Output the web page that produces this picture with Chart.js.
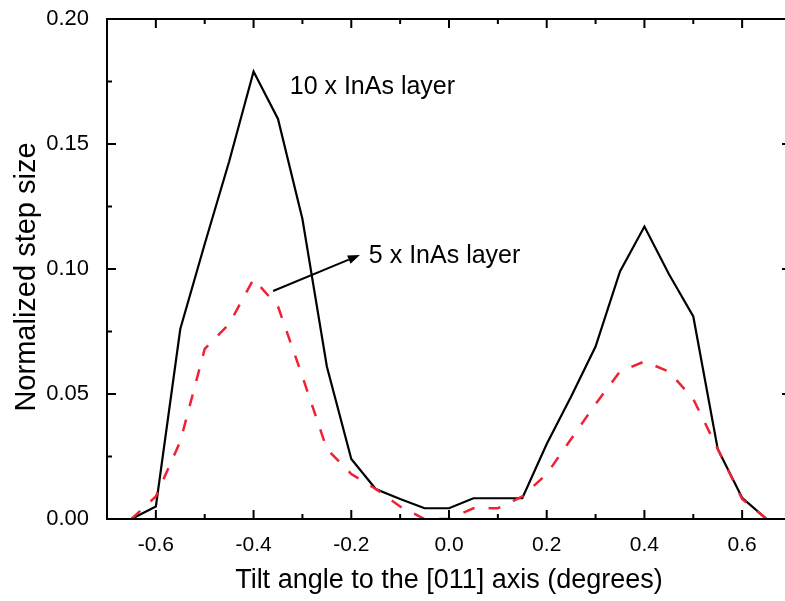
<!DOCTYPE html>
<html>
<head>
<meta charset="utf-8">
<title>Normalized step size vs tilt angle</title>
<script src="https://cdn.jsdelivr.net/npm/chart.js@4.4.0/dist/chart.umd.min.js"></script>
<style>
  html, body { margin: 0; padding: 0; background: #ffffff; overflow: hidden; }
  #wrap { width: 785px; height: 601px; overflow: hidden; }
</style>
</head>
<body>
<div id="wrap"><canvas id="c" width="792" height="601"></canvas></div>
<script>
// Tilt angle to the [011] axis (degrees)
const tiltAngles = [-0.65, -0.6, -0.55, -0.5, -0.45, -0.4, -0.35, -0.3, -0.25, -0.2, -0.15, -0.1, -0.05,
                    0.0, 0.05, 0.1, 0.15, 0.2, 0.25, 0.3, 0.35, 0.4, 0.45, 0.5, 0.55, 0.6, 0.65];

// Normalized step size, 10 x InAs layer (solid black)
const tenLayer = [0, 0.005, 0.076, 0.11, 0.143, 0.179, 0.16, 0.12, 0.061, 0.024, 0.012, 0.008, 0.0043,
                  0.0043, 0.0083, 0.0083, 0.0083, 0.03, 0.049, 0.069, 0.099, 0.117, 0.098, 0.081, 0.028, 0.0085, 0];

// Normalized step size, 5 x InAs layer (dashed red)
const fiveLayer = [0, 0.009, 0.031, 0.068, 0.078, 0.096, 0.085, 0.057, 0.028, 0.018, 0.012, 0.005, 0,
                   0, 0.0043, 0.0043, 0.009, 0.018, 0.032, 0.046, 0.059, 0.063, 0.059, 0.048, 0.028, 0.008, 0];

// Axis ticks
const xMajorTicks = [-0.6, -0.4, -0.2, 0.0, 0.2, 0.4, 0.6];
const xMinorTicks = [-0.7, -0.5, -0.3, -0.1, 0.1, 0.3, 0.5, 0.7];
const yMajorTicks = [0.00, 0.05, 0.10, 0.15, 0.20];
const yMinorTicks = [0.025, 0.075, 0.125, 0.175];

const seriesNames = ['10 x InAs layer', '5 x InAs layer'];
const yAxisTitle = 'Normalized step size';

const FONT = '"Liberation Sans", Arial, Helvetica, sans-serif';

function toPoints(xs, ys) {
  return xs.map((x, i) => ({ x: x, y: ys[i] }));
}

// Box frame plus inward major/minor tick marks on all four sides
const frameTicks = {
  id: 'frameTicks',
  afterDraw(chart) {
    const { ctx, chartArea: a, scales: { x, y } } = chart;
    ctx.save();
    ctx.strokeStyle = '#000';
    ctx.lineWidth = 2;
    ctx.strokeRect(a.left, a.top, a.right - a.left, a.bottom - a.top);
    const MAJOR = 9, MINOR = 5;
    ctx.beginPath();
    const xt = (v, len) => {
      const px = x.getPixelForValue(v);
      ctx.moveTo(px, a.bottom); ctx.lineTo(px, a.bottom - len);
      ctx.moveTo(px, a.top); ctx.lineTo(px, a.top + len);
    };
    const yt = (v, len) => {
      const py = y.getPixelForValue(v);
      ctx.moveTo(a.left, py); ctx.lineTo(a.left + len, py);
      ctx.moveTo(a.right, py); ctx.lineTo(a.right - len, py);
    };
    xMajorTicks.forEach(v => xt(v, MAJOR));
    xMinorTicks.forEach(v => xt(v, MINOR));
    yMajorTicks.forEach(v => yt(v, MAJOR));
    yMinorTicks.forEach(v => yt(v, MINOR));
    ctx.stroke();
    ctx.restore();
  }
};

// Vertical axis title, series labels and the arrow pointing to the dashed curve's label
const seriesLabels = {
  id: 'seriesLabels',
  afterDraw(chart) {
    const { ctx, chartArea: a, scales: { x, y } } = chart;
    ctx.save();
    ctx.fillStyle = '#000';

    ctx.save();
    ctx.translate(27, (a.top + a.bottom) / 2 + 8);
    ctx.rotate(-Math.PI / 2);
    ctx.font = '29px ' + FONT;
    ctx.textAlign = 'center';
    ctx.textBaseline = 'middle';
    ctx.fillText(yAxisTitle, 0, 0);
    ctx.restore();

    ctx.font = '25px ' + FONT;
    ctx.textAlign = 'left';
    ctx.textBaseline = 'alphabetic';
    ctx.fillText(seriesNames[0], x.getPixelForValue(-0.326), y.getPixelForValue(0.170));
    ctx.fillText(seriesNames[1], x.getPixelForValue(-0.164), y.getPixelForValue(0.1023));

    const x0 = x.getPixelForValue(-0.360), y0 = y.getPixelForValue(0.0912);
    const x1 = x.getPixelForValue(-0.1824), y1 = y.getPixelForValue(0.1056);
    const ang = Math.atan2(y1 - y0, x1 - x0);
    const headLen = 12, headHalf = 4.5;
    const bx = x1 - headLen * Math.cos(ang), by = y1 - headLen * Math.sin(ang);
    ctx.strokeStyle = '#000';
    ctx.lineWidth = 2;
    ctx.beginPath();
    ctx.moveTo(x0, y0);
    ctx.lineTo(bx, by);
    ctx.stroke();
    ctx.beginPath();
    ctx.moveTo(x1, y1);
    ctx.lineTo(bx + headHalf * Math.sin(ang), by - headHalf * Math.cos(ang));
    ctx.lineTo(bx - headHalf * Math.sin(ang), by + headHalf * Math.cos(ang));
    ctx.closePath();
    ctx.fill();
    ctx.restore();
  }
};

new Chart(document.getElementById('c'), {
  type: 'line',
  data: {
    datasets: [
      {
        label: seriesNames[0],
        data: toPoints(tiltAngles, tenLayer),
        borderColor: '#000000',
        borderWidth: 2.2,
        pointRadius: 0,
        tension: 0,
        fill: false,
        order: 1
      },
      {
        label: seriesNames[1],
        data: toPoints(tiltAngles, fiveLayer),
        borderColor: '#EE2233',
        borderWidth: 2.5,
        borderDash: [12, 14],
        pointRadius: 0,
        tension: 0,
        fill: false,
        order: 0
      }
    ]
  },
  options: {
    responsive: false,
    animation: false,
    events: [],
    layout: { padding: { top: 19, right: 1, left: 0, bottom: 0 } },
    plugins: {
      legend: { display: false },
      tooltip: { enabled: false }
    },
    scales: {
      x: {
        type: 'linear',
        min: -0.7,
        max: 0.7,
        afterBuildTicks: s => { s.ticks = xMajorTicks.map(v => ({ value: v })); },
        afterFit: s => { s.height = 82; s.paddingLeft = 0; s.paddingRight = 0; },
        grid: { display: false, drawTicks: false },
        border: { display: true, color: '#000', width: 2 },
        ticks: {
          color: '#000',
          padding: 14,
          maxRotation: 0,
          autoSkip: false,
          font: { family: FONT, size: 21 },
          callback: v => Number(v).toFixed(1)
        },
        title: {
          display: true,
          text: 'Tilt angle to the [011] axis (degrees)',
          color: '#000',
          font: { family: FONT, size: 27 },
          padding: { top: 0, bottom: 4 }
        }
      },
      y: {
        type: 'linear',
        min: 0,
        max: 0.2,
        afterBuildTicks: s => { s.ticks = yMajorTicks.map(v => ({ value: v })); },
        afterFit: s => { s.width = 107; s.paddingTop = 0; s.paddingBottom = 0; },
        grid: { display: false, drawTicks: false },
        border: { display: true, color: '#000', width: 2 },
        ticks: {
          color: '#000',
          padding: 18,
          autoSkip: false,
          font: { family: FONT, size: 22 },
          callback: v => Number(v).toFixed(2)
        },
        title: { display: false }
      }
    }
  },
  plugins: [frameTicks, seriesLabels]
});
</script>
</body>
</html>
